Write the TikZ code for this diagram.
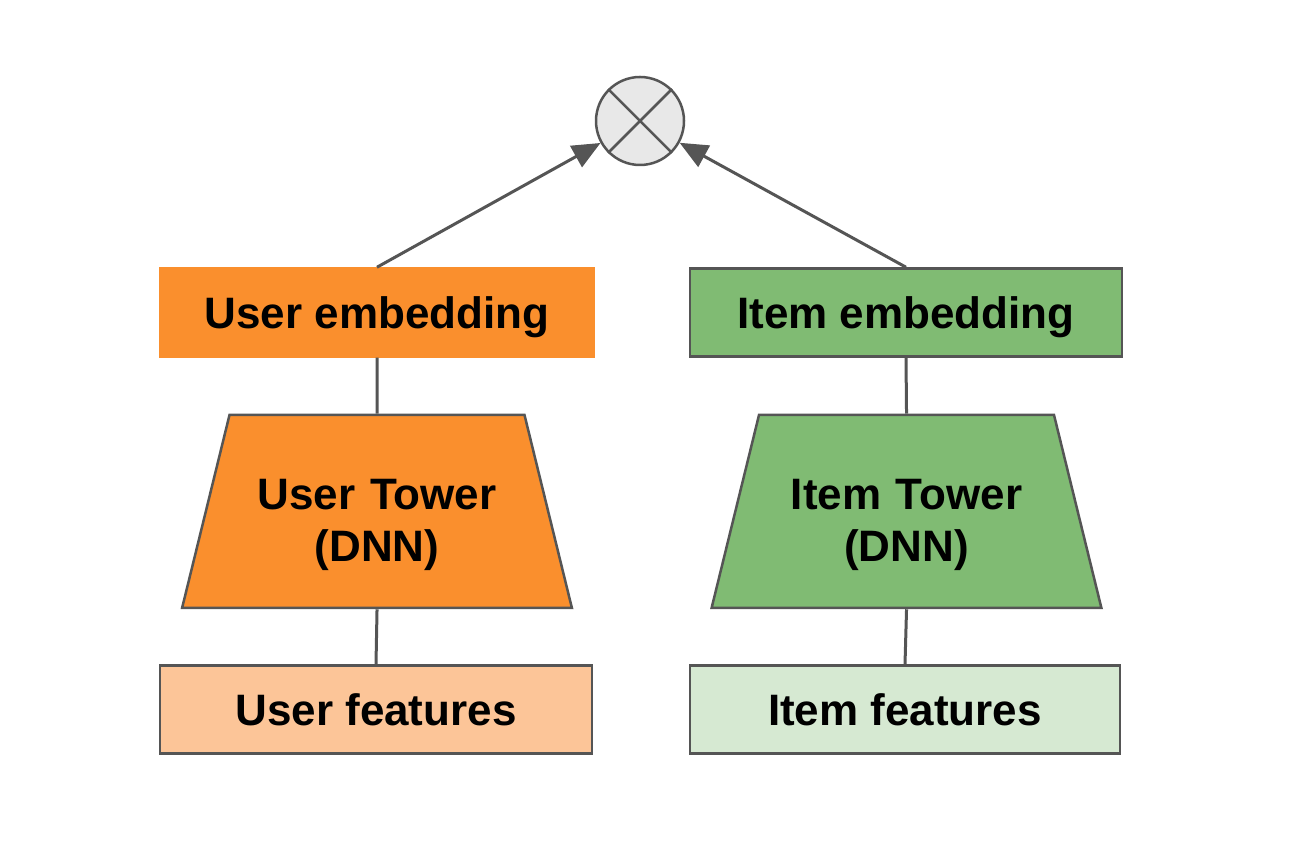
\documentclass[tikz,border=0pt]{standalone}
\usepackage{fontspec}
\setmainfont{Liberation Sans}
\usetikzlibrary{shapes.geometric,arrows.meta}

\definecolor{towerorange}{RGB}{250,143,45}
\definecolor{featorange}{RGB}{252,197,152}
\definecolor{towergreen}{RGB}{128,187,115}
\definecolor{featgreen}{RGB}{214,233,210}
\definecolor{edgegray}{RGB}{85,85,85}

\begin{document}
\begin{tikzpicture}[x=1pt, y=1pt,
    every node/.style={font=\fontsize{44}{52}\selectfont\bfseries, text=black},
    box/.style={rectangle, draw=edgegray, line width=2.5pt, minimum width=432pt, minimum height=88pt,
        inner sep=0pt, text depth=0pt},
    tower/.style={trapezium, draw=edgegray, line width=2.5pt, trapezium left angle=76.2, trapezium right angle=76.2,
        inner sep=0pt, text width=295pt, align=center, text height=95pt, text depth=98pt},
    link/.style={edgegray, line width=3pt},
    arrowlink/.style={link, -{Triangle[length=28pt, width=24pt]}}]
    \useasboundingbox (0,0) rectangle (1300,866);

    % Product node
    \node[circle, draw=edgegray, fill=gray!18, line width=2.5pt, minimum size=88pt, inner sep=0pt] (prod) at (640,745) {};
    \draw[edgegray, line width=2.5pt] (prod.north west) -- (prod.south east);
    \draw[edgegray, line width=2.5pt] (prod.north east) -- (prod.south west);

    % User side
    \node[box, fill=towerorange, draw=towerorange, minimum width=434pt] (uemb) at (377,553.5) {User embedding};
    \node[tower, fill=towerorange] (utower) at (377,354.5) {User Tower\\(DNN)};
    \node[box, fill=featorange] (ufeat) at (376,156.5) {User features};

    % Item side
    \node[box, fill=towergreen] (iemb) at (906,553.5) {Item embedding};
    \node[tower, fill=towergreen] (itower) at (906.5,354.5) {Item Tower\\(DNN)};
    \node[box, fill=featgreen, minimum width=430pt] (ifeat) at (905,156.5) {Item features};

    % Connectors
    \draw[link] (uemb.south) -- (utower.north);
    \draw[link] (ufeat.north) -- (utower.south);
    \draw[link] (iemb.south) -- (itower.north);
    \draw[link] (ifeat.north) -- (itower.south);
    \draw[arrowlink] (uemb.north) -- (prod);
    \draw[arrowlink] (iemb.north) -- (prod);
\end{tikzpicture}
\end{document}
